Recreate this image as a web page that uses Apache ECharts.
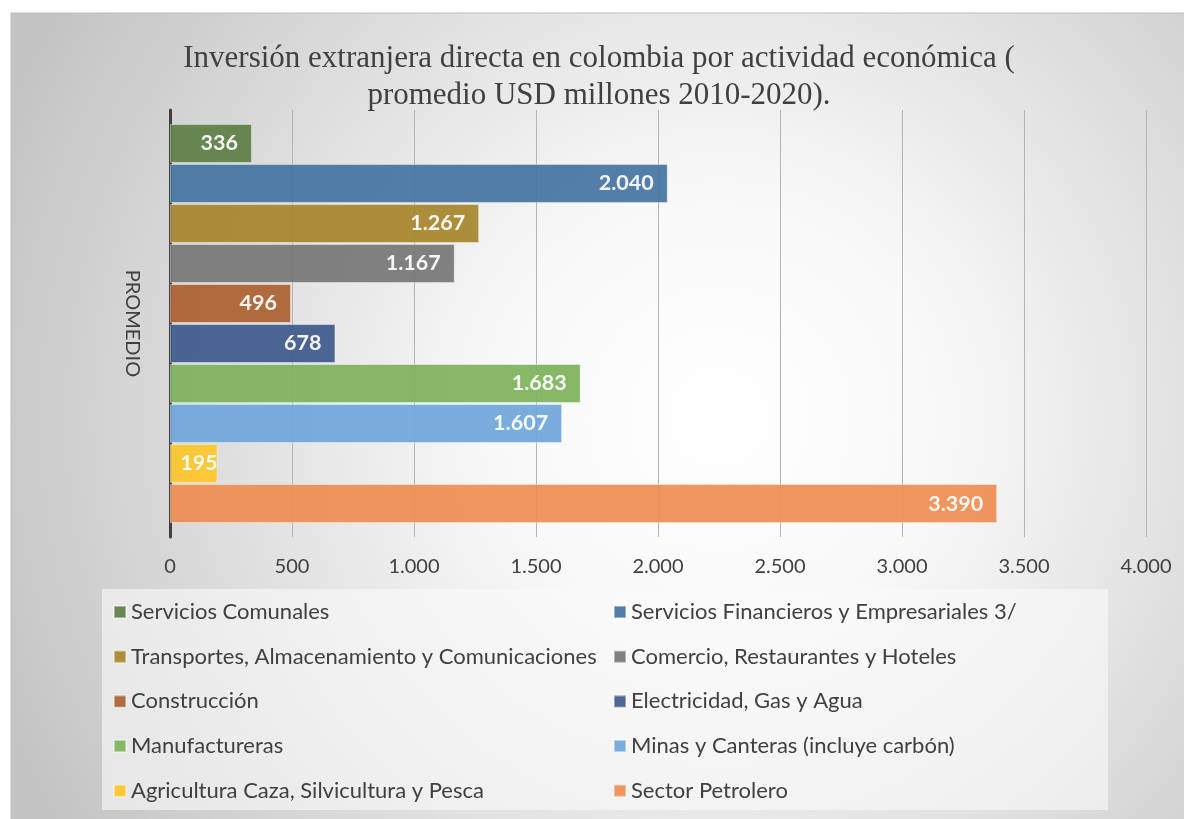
<!DOCTYPE html>
<html>
<head>
<meta charset="utf-8">
<script src="https://cdn.jsdelivr.net/npm/echarts@6/dist/echarts.min.js"></script>
<style>
html,body{margin:0;padding:0;background:#fff;}
#c{width:1184px;height:819px;}
</style>
</head>
<body>
<div id="c"></div>
<script>
// ---- data ----
const categories = ['PROMEDIO'];
const seriesNames = [
  'Servicios Comunales',
  'Servicios Financieros y Empresariales 3/',
  'Transportes, Almacenamiento y Comunicaciones',
  'Comercio, Restaurantes y Hoteles',
  'Construcción',
  'Electricidad, Gas y Agua',
  'Manufactureras',
  'Minas y Canteras (incluye carbón)',
  'Agricultura Caza, Silvicultura y Pesca',
  'Sector Petrolero'
];
const seriesValues = [336, 2040, 1267, 1167, 496, 678, 1683, 1607, 195, 3390];
const xTicks = [0, 500, 1000, 1500, 2000, 2500, 3000, 3500, 4000];
const titleText = 'Inversión extranjera directa en colombia por actividad económica (\npromedio USD millones 2010-2020).';

// ---- styles ----
const colors = ['#5c7e44', '#43739f', '#a6842a', '#767676', '#ac5e30', '#3e598a', '#7cb25b', '#6fa6da', '#fdc52a', '#ef8c4f'];
const fmt = v => String(v).replace(/\B(?=(\d{3})+(?!\d))/g, '.');
const FONT = 'Lato';

const series = seriesNames.map((name, i) => ({
  name: name,
  type: 'bar',
  data: [seriesValues[i]],
  barWidth: 39,
  barGap: '2.6%',
  itemStyle: {
    color: colors[i],
    opacity: 0.92,
    borderColor: 'rgba(255,255,255,0.45)',
    borderWidth: 1
  },
  label: {
    show: true,
    position: 'insideRight',
    distance: i === 8 ? 0 : 14,
    color: '#ffffff',
    fontFamily: FONT,
    fontWeight: 'bold',
    fontSize: 21.5,
    formatter: p => fmt(p.value)
  }
}));

const col1 = seriesNames.filter((_, i) => i % 2 === 0);
const col2 = seriesNames.filter((_, i) => i % 2 === 1);
const legendCommon = {
  orient: 'vertical',
  icon: 'rect',
  itemWidth: 12,
  itemHeight: 12,
  itemGap: 22.7,
  padding: 0,
  top: 601,
  textStyle: { fontFamily: FONT, fontSize: 22, color: '#404040', lineHeight: 22 },
  selectedMode: false
};

const chart = echarts.init(document.getElementById('c'), null, { renderer: 'canvas' });
chart.setOption({
  backgroundColor: '#ffffff',
  animation: false,
  graphic: [
    {
      type: 'rect', z: -100, silent: true,
      shape: { x: 11, y: 13, width: 1180, height: 810 },
      style: {
        fill: {
          type: 'radial', x: 0.6, y: 0.5, r: 0.95,
          colorStops: [
            { offset: 0, color: '#ffffff' },
            { offset: 0.3, color: '#f8f8f8' },
            { offset: 1, color: '#c4c4c4' }
          ]
        },
        stroke: '#bdbdbd', lineWidth: 1
      }
    },
    {
      type: 'rect', z: -90, silent: true,
      shape: { x: 102, y: 589, width: 1006, height: 221 },
      style: { fill: 'rgba(250,250,250,0.6)' }
    }
  ],
  title: {
    text: titleText,
    left: 594,
    top: 35,
    textAlign: 'center',
    textStyle: {
      fontFamily: 'Liberation Serif',
      fontWeight: 'normal',
      fontSize: 31,
      lineHeight: 37,
      color: '#404040'
    }
  },
  legend: [
    Object.assign({}, legendCommon, { left: 113, data: col1 }),
    Object.assign({}, legendCommon, { left: 613, data: col2 })
  ],
  grid: { left: 170, right: 38, top: 110, bottom: 282, containLabel: false },
  xAxis: {
    type: 'value',
    min: 0,
    max: 4000,
    interval: 500,
    axisLine: { show: false },
    axisTick: { show: false },
    splitLine: { show: true, lineStyle: { color: '#b4b4b4', width: 1 } },
    axisLabel: {
      margin: 20,
      fontFamily: FONT,
      fontSize: 20,
      color: '#404040',
      formatter: v => fmt(v)
    }
  },
  yAxis: {
    type: 'category',
    data: categories,
    inverse: true,
    axisLine: { show: true, lineStyle: { color: '#404040', width: 3 } },
    axisTick: { show: false },
    axisLabel: {
      rotate: -90,
      margin: 28,
      fontFamily: FONT,
      fontSize: 20,
      color: '#404040'
    }
  },
  series: series
});
</script>
</body>
</html>
